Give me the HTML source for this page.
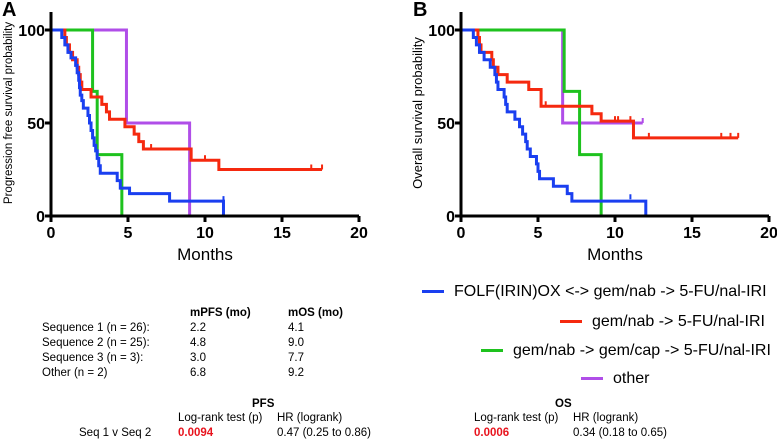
<!DOCTYPE html>
<html><head><meta charset="utf-8"><style>
body{margin:0;background:#fff;width:777px;height:441px;overflow:hidden;font-family:"Liberation Sans",Arial,sans-serif}
svg{position:absolute;left:0;top:0}
text{font-family:"Liberation Sans",Arial,sans-serif}
.t div{white-space:nowrap}
</style></head><body>
<svg id="c" width="777" height="441"></svg>
<script>
const ticksX=[0,5,10,15,20];
const ticksY=[0,50,100];
// PFS series: [time, survival%]
const pfsBlue=[[0,100],[0.7,96],[0.9,92],[1.1,88],[1.3,85],[1.6,81],[1.7,77],[1.8,73],[1.85,69],[1.9,65],[2.0,62],[2.1,58],[2.4,54],[2.5,50],[2.6,46],[2.7,42],[2.8,38],[2.9,35],[3.0,31],[3.1,27],[3.2,23],[4.3,19],[4.5,15],[5.1,12],[7.7,8],[11.2,0]];
const pfsBlueCens=[[11.2,8]];
const pfsRed=[[0,100],[0.9,96],[1.0,92],[1.2,88],[1.4,84],[1.7,80],[1.8,76],[1.9,72],[2.0,68],[2.6,64],[3.3,60],[3.6,56],[3.8,52],[4.8,48],[5.4,44],[5.7,40],[6.0,36],[9.1,30],[10.9,25],[17.6,25]];
const pfsRedCens=[[6.5,36],[10,30],[16.9,25],[17.6,25]];
const pfsGreen=[[0,100],[2.7,67],[3.0,33],[4.6,0]];
const pfsPurple=[[0,100],[4.9,50],[9.0,0]];
// OS series
const osBlue=[[0,100],[0.8,96],[1.0,92],[1.2,88],[1.5,84],[1.9,80],[2.2,76],[2.3,72],[2.4,68],[2.8,64],[2.9,60],[3.0,56],[3.5,52],[3.8,48],[4.0,44],[4.2,40],[4.3,36],[4.5,32],[4.9,28],[5.0,24],[5.1,20],[6.0,16],[6.9,12],[7.2,8],[9.1,8],[12.0,0]];
const osBlueCens=[[11,9]];
const osRed=[[0,100],[1.1,96],[1.2,92],[1.3,88],[2.0,84],[2.1,80],[2.4,76],[3.0,72],[4.4,68],[5.2,59],[8.5,55],[9.1,51],[11.2,42],[18.0,42]];
const osRedCens=[[5.5,59],[10,51],[10.2,51],[11,51],[12.2,42],[16.9,42],[17.5,42],[18,42]];
const osGreen=[[0,100],[6.7,67],[7.7,33],[9.1,0]];
const osPurple=[[0,100],[6.6,50],[11.8,50]];
const osPurpleCens=[[11.8,50]];
const colors={blue:"#1a3ff0",red:"#f5290f",green:"#1ec21e",purple:"#b04ee8"};
const NS="http://www.w3.org/2000/svg";
const svg=document.getElementById('c');
function el(tag,attrs,parent){const e=document.createElementNS(NS,tag);for(const k in attrs)e.setAttribute(k,attrs[k]);(parent||svg).appendChild(e);return e;}
function panel(x0,x1,y0,y100,label,ylab,series,name){
  const g=el('g',{});
  
  
  const sx=t=>x0+(x1-x0)*t/20, sy=s=>y0+(y100-y0)*s/100;
  series.forEach(([pts,cens,col,nm])=>{
    let d="M"+sx(pts[0][0])+","+sy(pts[0][1]);
    for(let i=1;i<pts.length;i++){d+=" H"+sx(pts[i][0])+" V"+sy(pts[i][1]);}
    const p=el('path',{d:d,fill:"none",stroke:col,"stroke-width":3},g);
    
    
    (cens||[]).forEach(c=>{const l=el('line',{x1:sx(c[0]),x2:sx(c[0]),y1:sy(c[1]),y2:sy(c[1])-5,stroke:col,"stroke-width":2},g);
      
      });
  });
  const ax=el('path',{d:`M${x0},12 V${y0} H${x1}`,fill:"none",stroke:"#000","stroke-width":3},g);
  
  
  ticksX.forEach(t=>{el('line',{x1:sx(t),x2:sx(t),y1:y0,y2:y0+6,stroke:"#000","stroke-width":3},g);
    const tx=el('text',{x:sx(t),y:y0+22,"text-anchor":"middle","font-size":16,"font-weight":"bold"},g);tx.textContent=t;
    
    });
  ticksY.forEach(t=>{el('line',{x1:x0-6,x2:x0,y1:sy(t),y2:sy(t),stroke:"#000","stroke-width":3},g);
    const tx=el('text',{x:x0-6,y:sy(t)+6,"text-anchor":"end","font-size":16,"font-weight":"bold"},g);tx.textContent=t;
    
    });
  const xt=el('text',{x:(x0+x1)/2,y:y0+44,"text-anchor":"middle","font-size":17},g);xt.textContent="Months";
  
  
  const yt=el('text',{transform:`translate(${x0-39},${(y0+y100)/2-10}) rotate(-90)`,"text-anchor":"middle","font-size":ylab.length>30?11.5:13},g);yt.textContent=ylab;
  
  
  const pl=el('text',{x:label=="A"?2:413,y:16,"font-size":20,"font-weight":"bold"},g);pl.textContent=label;
  
  
}
panel(51,359,216,30,"A","Progression free survival probability",[
 [pfsPurple,[],colors.purple,"other-pfs"],[pfsGreen,[],colors.green,"seq3-pfs"],[pfsRed,pfsRedCens,colors.red,"seq2-pfs"],[pfsBlue,pfsBlueCens,colors.blue,"seq1-pfs"]],"pfs-chart");
panel(461,769,216,30,"B","Overall survival probability",[
 [osPurple,osPurpleCens,colors.purple,"other-os"],[osGreen,[],colors.green,"seq3-os"],[osRed,osRedCens,colors.red,"seq2-os"],[osBlue,osBlueCens,colors.blue,"seq1-os"]],"os-chart");
</script>
<div class="t" style="position:absolute;left:0;top:0;font-size:16px">
 <div style="position:absolute;left:422px;top:283px"><span style="display:inline-block;width:22px;height:3px;background:#1a3ff0;vertical-align:middle;margin-right:10px"></span>FOLF(IRIN)OX &lt;-&gt; gem/nab -&gt; 5-FU/nal-IRI</div>
 <div style="position:absolute;left:560px;top:313px"><span style="display:inline-block;width:22px;height:3px;background:#f5290f;vertical-align:middle;margin-right:10px"></span>gem/nab -&gt; 5-FU/nal-IRI</div>
 <div style="position:absolute;left:481px;top:342px"><span style="display:inline-block;width:22px;height:3px;background:#1ec21e;vertical-align:middle;margin-right:10px"></span>gem/nab -&gt; gem/cap -&gt; 5-FU/nal-IRI</div>
 <div style="position:absolute;left:581px;top:370px"><span style="display:inline-block;width:22px;height:3px;background:#b04ee8;vertical-align:middle;margin-right:10px"></span>other</div>
</div>
<div class="t" style="position:absolute;left:0;top:0;font-size:11.5px;line-height:15px">
 <div style="position:absolute;left:190px;top:306px;font-weight:bold">mPFS (mo)</div>
 <div style="position:absolute;left:288px;top:306px;font-weight:bold">mOS (mo)</div>
 <div style="position:absolute;left:42px;top:321px">Sequence 1 (n = 26):<br>Sequence 2 (n = 25):<br>Sequence 3 (n = 3):<br>Other (n = 2)</div>
 <div style="position:absolute;left:190px;top:321px">2.2<br>4.8<br>3.0<br>6.8</div>
 <div style="position:absolute;left:288px;top:321px">4.1<br>9.0<br>7.7<br>9.2</div>
 <div style="position:absolute;left:252px;top:397px;font-weight:bold">PFS</div>
 <div style="position:absolute;left:178px;top:411px">Log-rank test (p)</div>
 <div style="position:absolute;left:277px;top:411px">HR (logrank)</div>
 <div style="position:absolute;left:79px;top:426px">Seq 1 v Seq 2</div>
 <div style="position:absolute;left:178px;top:426px;color:#e8141e;font-weight:bold">0.0094</div>
 <div style="position:absolute;left:277px;top:426px">0.47 (0.25 to 0.86)</div>
 <div style="position:absolute;left:555px;top:397px;font-weight:bold">OS</div>
 <div style="position:absolute;left:474px;top:411px">Log-rank test (p)</div>
 <div style="position:absolute;left:573px;top:411px">HR (logrank)</div>
 <div style="position:absolute;left:474px;top:426px;color:#e8141e;font-weight:bold">0.0006</div>
 <div style="position:absolute;left:573px;top:426px">0.34 (0.18 to 0.65)</div>
</div>
</body></html>
